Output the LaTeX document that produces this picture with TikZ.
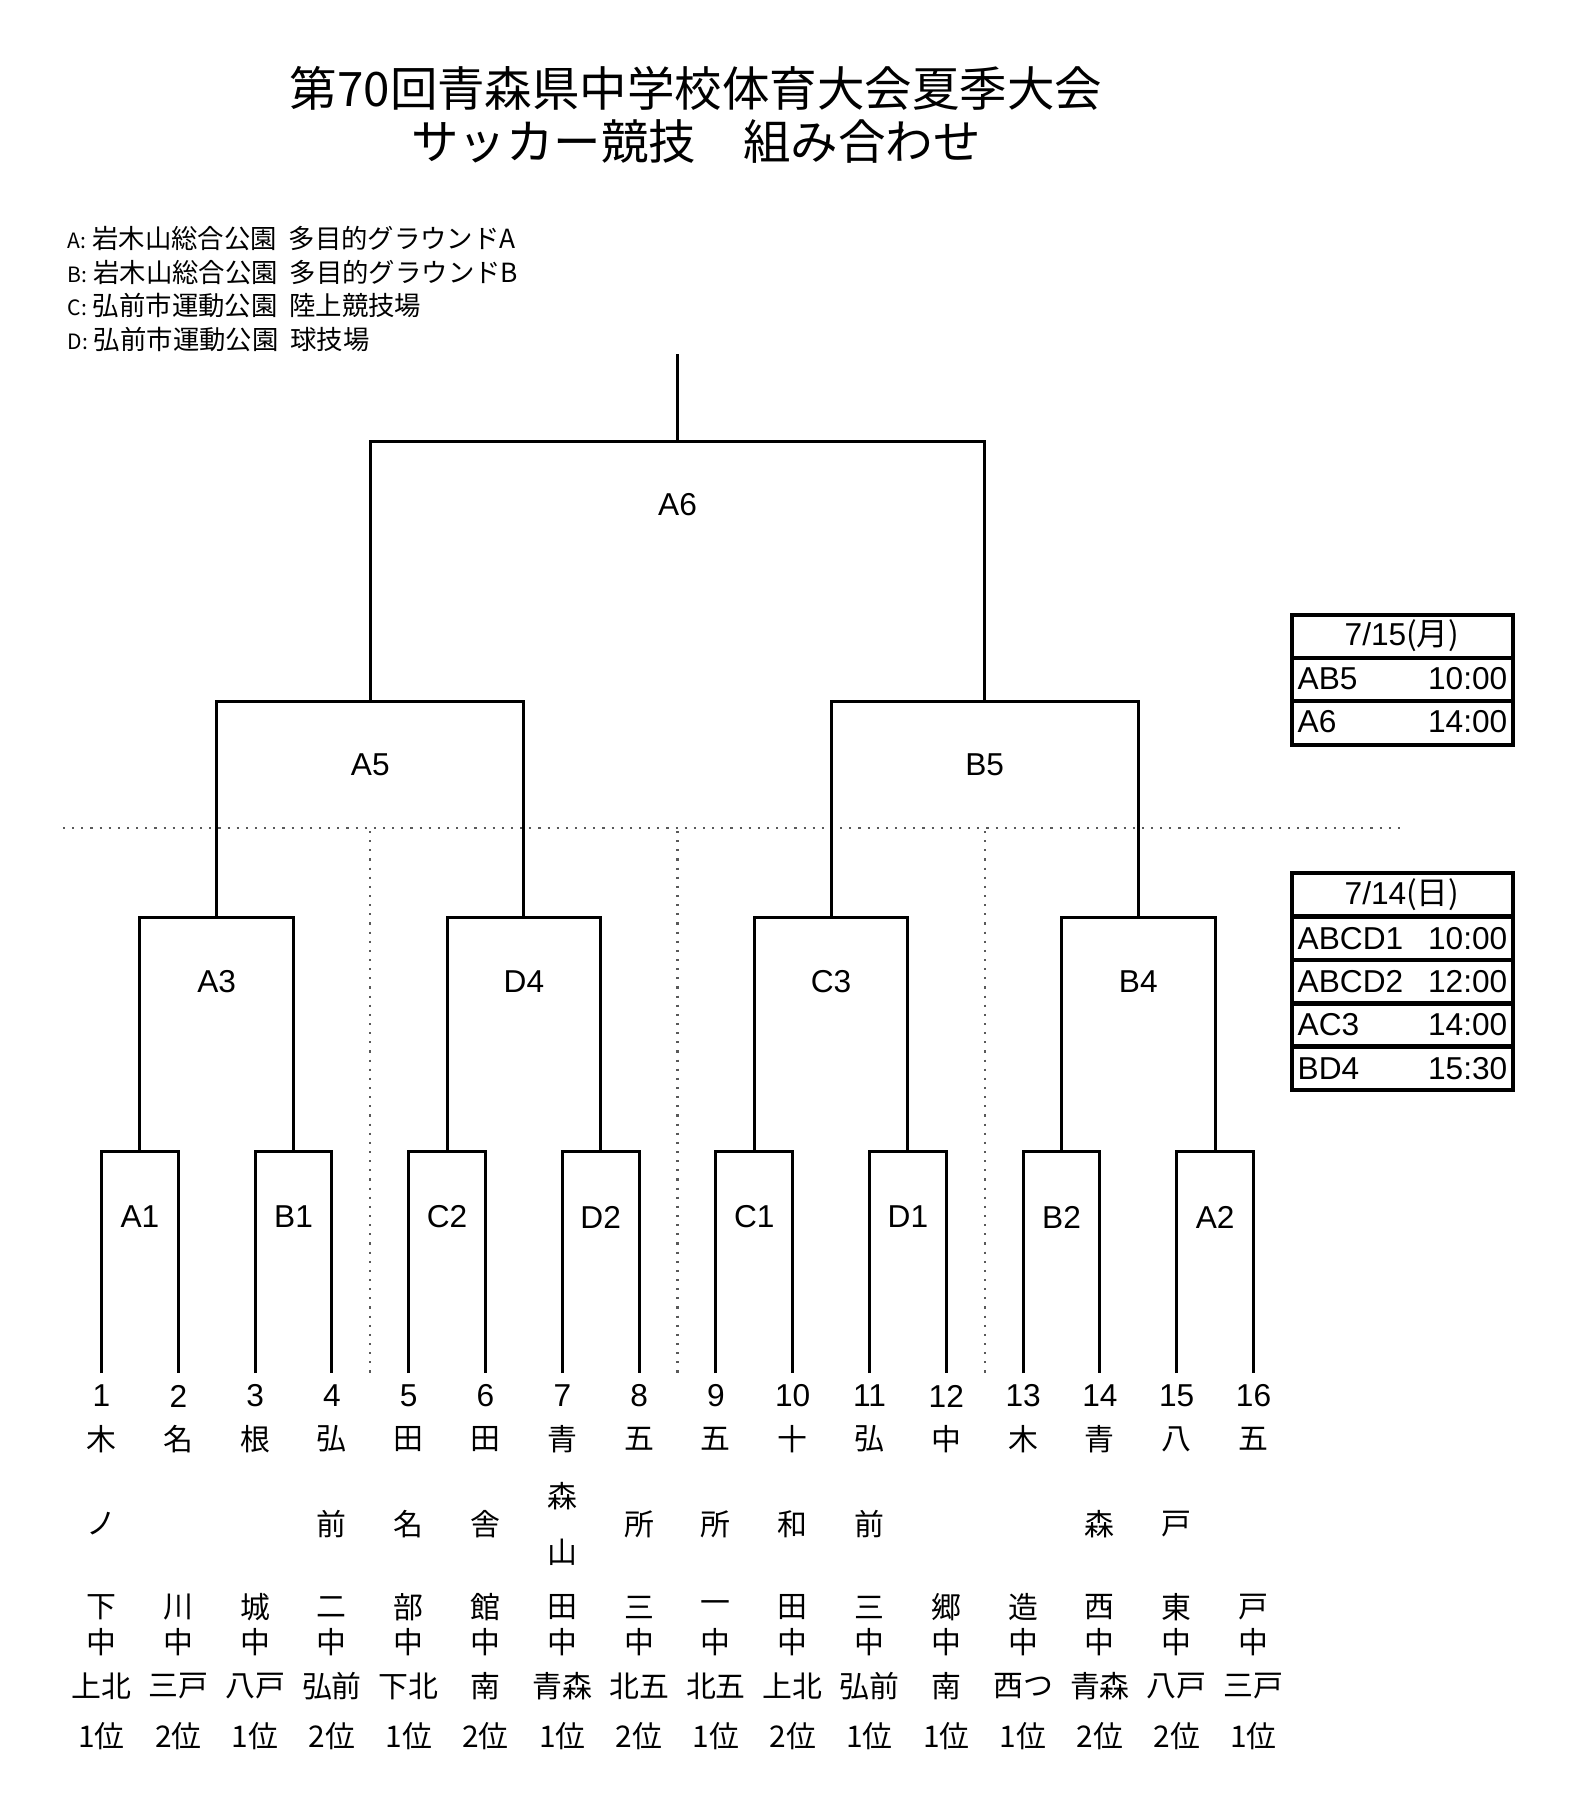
\documentclass[tikz,border=0pt]{standalone}
\usepackage{fontspec}
\setmainfont{Liberation Sans}
\newfontfamily\jp{Noto Sans CJK JP}
\usetikzlibrary{calc}
\begin{document}
\begin{tikzpicture}[x=0.01cm,y=-0.01cm]
  \tikzset{every node/.style={inner sep=0pt},
    bracket/.style={line width=0.85pt},
    sepline/.style={line width=0.6pt,dotted,gray!70!black},
    gamelabel/.style={font=\fontsize{9}{10}\selectfont},
    teamtext/.style={font=\jp\fontsize{8.5}{9}\selectfont},
    tablebox/.style={line width=1.3pt}}
  \useasboundingbox (0,0) rectangle (1569,1805);
  % title and legend
  \node (title1) at (696,88) {\jp\fontsize{13.5}{15}\selectfont 第70回青森県中学校体育大会夏季大会};
  \node (title2) at (696,141) {\jp\fontsize{13.5}{15}\selectfont サッカー競技\quad 組み合わせ};
  \foreach \k/\t [count=\i] in {A/岩木山総合公園\ \ 多目的グラウンドA,B/岩木山総合公園\ \ 多目的グラウンドB,C/弘前市運動公園\ \ 陸上競技場,D/弘前市運動公園\ \ 球技場}
    \node[anchor=west,font=\jp\fontsize{7.5}{8}\selectfont] (legend\i) at (67,205+33.5*\i) {{\fontsize{6}{7}\selectfont\k:}\ \t};
  % dotted separators
  \draw[sepline] (63,828) -- (1405,828);
  \foreach \c in {4.5,8.5,12.5}
    \draw[sepline] ({101.5+76.8*(\c-1)},831) -- ({101.5+76.8*(\c-1)},1373);
  % leaves
  \foreach \n in {1,...,16}{
    \coordinate (leaf\n) at ({101.5+76.8*(\n-1)},1373);
    \node (num\n) at ({101.5+76.8*(\n-1)},1396) {\fontsize{9}{10}\selectfont\n};
  }
  % first round
  \foreach \a/\b/\g [count=\i] in {1/2/A1,3/4/B1,5/6/C2,7/8/D2,9/10/C1,11/12/D1,13/14/B2,15/16/A2}{
    \draw[bracket] (leaf\a) |- (leaf\b |- 0,1151) coordinate (r1\i) -- (leaf\b);
    \coordinate (m1\i) at ($(leaf\a)!0.5!(leaf\b)$);
    \node[gamelabel] (g1\i) at (m1\i |- 0,1217) {\g};
  }
  % second round
  \foreach \a/\b/\g [count=\i] in {1/2/A3,3/4/D4,5/6/C3,7/8/B4}{
    \draw[bracket] (m1\a |- 0,1151) |- (m1\b |- 0,917) -- (m1\b |- 0,1151);
    \coordinate (m2\i) at ($(m1\a)!0.5!(m1\b)$);
    \node[gamelabel] (g2\i) at (m2\i |- 0,982) {\g};
  }
  % third round
  \foreach \a/\b/\g [count=\i] in {1/2/A5,3/4/B5}{
    \draw[bracket] (m2\a |- 0,917) |- (m2\b |- 0,701) -- (m2\b |- 0,917);
    \coordinate (m3\i) at ($(m2\a)!0.5!(m2\b)$);
    \node[gamelabel] (g3\i) at (m3\i |- 0,765) {\g};
  }
  % final
  \draw[bracket] (m31 |- 0,701) |- (m32 |- 0,441) -- (m32 |- 0,701);
  \coordinate (m4) at ($(m31)!0.5!(m32)$);
  \draw[bracket] (m4 |- 0,441) -- (m4 |- 0,354);
  \node[gamelabel] (g4) at (m4 |- 0,505) {A6};
  % teams
  \foreach \p/\q/\r/\reg/\rk [count=\n] in {木/ノ/下/上北/1,名//川/三戸/2,根//城/八戸/1,弘/前/二/弘前/2,田/名/部/下北/1,田/舎/館/南/2,青//田/青森/1,五/所/三/北五/2,五/所/一/北五/1,十/和/田/上北/2,弘/前/三/弘前/1,中//郷/南/1,木//造/西つ/1,青/森/西/青森/2,八/戸/東/八戸/2,五//戸/三戸/1}{
    \node[teamtext] (ta\n) at (num\n |- 0,1439) {\p};
    \node[teamtext] (tb\n) at (num\n |- 0,1524) {\q};
    \node[teamtext] (tc\n) at (num\n |- 0,1607) {\r};
    \node[teamtext] (td\n) at (num\n |- 0,1642) {中};
    \node[teamtext] (te\n) at (num\n |- 0,1686) {\reg};
    \node[teamtext] (tf\n) at (num\n |- 0,1736) {\rk 位};
  }
  \node[teamtext] (tb7a) at (num7 |- 0,1496) {森};
  \node[teamtext] (tb7b) at (num7 |- 0,1552) {山};
  % schedule tables
  \draw[tablebox] (1292,615) rectangle (1513,745);
  \foreach \y in {658,701} \draw[tablebox] (1292,\y) -- (1513,\y);
  \node (day15) at (1402,636) {\fontsize{9}{10}\selectfont 7/15{\jp (月)}};
  \foreach \g/\t [count=\i] in {AB5/10:00,A6/14:00}{
    \node[anchor=west,gamelabel] (s15g\i) at (1297,636+43*\i) {\g};
    \node[anchor=east,gamelabel] (s15t\i) at (1508,636+43*\i) {\t};
  }
  \draw[tablebox] (1292,873) rectangle (1513,1090);
  \foreach \y in {916.4,959.8,1003.2,1046.6} \draw[tablebox] (1292,\y) -- (1513,\y);
  \node (day14) at (1402,894.7) {\fontsize{9}{10}\selectfont 7/14{\jp (日)}};
  \foreach \g/\t [count=\i] in {ABCD1/10:00,ABCD2/12:00,AC3/14:00,BD4/15:30}{
    \node[anchor=west,gamelabel] (s14g\i) at (1297,894.7+43.4*\i) {\g};
    \node[anchor=east,gamelabel] (s14t\i) at (1508,894.7+43.4*\i) {\t};
  }
\end{tikzpicture}
\end{document}
